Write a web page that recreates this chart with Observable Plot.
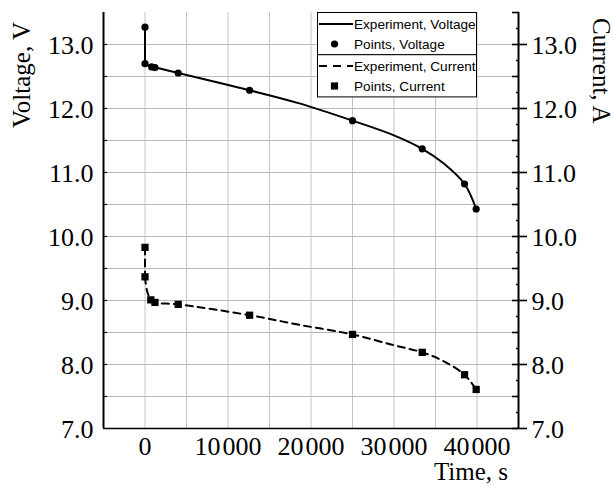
<!DOCTYPE html>
<html>
<head>
<meta charset="utf-8">
<script src="https://cdn.jsdelivr.net/npm/d3@7"></script>
<script src="https://cdn.jsdelivr.net/npm/@observablehq/plot@0.6"></script>
<style>
  body { margin: 0; background: #fff; }
</style>
</head>
<body>
<div id="chart"></div>
<script>
// ---- data ----
const expTimeV   = [0, 0, 800, 1200, 4000, 12600, 18600, 25000, 30000, 33400, 36000, 38500, 39900];
const expVoltage = [13.27, 12.70, 12.65, 12.64, 12.555, 12.285, 12.08, 11.81, 11.58, 11.37, 11.14, 10.82, 10.43];

const ptTimeV    = [0, 0, 800, 1200, 4000, 12600, 25000, 33400, 38500, 39900];
const ptVoltage  = [13.27, 12.70, 12.65, 12.64, 12.555, 12.285, 11.81, 11.37, 10.82, 10.43];

const expTimeI   = [0, 0, 250, 700, 1200, 4000, 12600, 18600, 25000, 30000, 33400, 36000, 38500, 39900];
const expCurrent = [9.83, 9.37, 9.15, 9.01, 8.97, 8.94, 8.77, 8.62, 8.47, 8.30, 8.19, 8.05, 7.84, 7.61];

const ptTimeI    = [0, 0, 700, 1200, 4000, 12600, 25000, 33400, 38500, 39900];
const ptCurrent  = [9.83, 9.37, 9.01, 8.97, 8.94, 8.77, 8.47, 8.19, 7.84, 7.61];

// ---- axes / ticks ----
const xDomain = [-5000, 45000];
const yDomain = [7, 13.5];
const xLabelTicks = [0, 10000, 20000, 30000, 40000];
const xGridTicks  = [0, 5000, 10000, 15000, 20000, 25000, 30000, 35000, 40000];
const yLabelTicks = [7, 8, 9, 10, 11, 12, 13];
const yGridTicks  = [7.5, 8, 8.5, 9, 9.5, 10, 10.5, 11, 11.5, 12, 12.5, 13];
const yHalfTicks  = [7.5, 8.5, 9.5, 10.5, 11.5, 12.5, 13.5];
const yQuarterTicks = [7.25, 7.75, 8.25, 8.75, 9.25, 9.75, 10.25, 10.75, 11.25, 11.75, 12.25, 12.75, 13.25];

const legendItems = ["Experiment, Voltage", "Points, Voltage", "Experiment, Current", "Points, Current"];

const fmtX = d => { const s = String(d); return s.length > 3 ? s.slice(0, -3) + "\u200A" + s.slice(-3) : s; };
const fmtY = d3.format(".1f");
const empty = () => "";

const W = 614, H = 490;
const mL = 103, mR = 96, mT = 12, mB = 62;

// the initial drop (first two readings) is a straight vertical step, the rest a smooth curve
const lineMarks = (xs, ys, extra) => [
  Plot.line(ys.slice(0, 2), { x: xs.slice(0, 2), y: ys.slice(0, 2), stroke: "#000", strokeWidth: 2, ...extra }),
  Plot.line(ys.slice(1), { x: xs.slice(1), y: ys.slice(1), stroke: "#000", strokeWidth: 2, curve: "catmull-rom", ...extra })
];

const plot = Plot.plot({
  width: W,
  height: H,
  marginLeft: mL,
  marginRight: mR,
  marginTop: mT,
  marginBottom: mB,
  style: { fontFamily: "'Liberation Serif', 'Times New Roman', serif", fontSize: "26px", color: "#000", background: "#fff" },
  x: { domain: xDomain, axis: null },
  y: { domain: yDomain, axis: null },
  marks: [
    Plot.ruleX(xGridTicks, { stroke: "#c4c4c4", strokeWidth: 1 }),
    Plot.ruleY(yGridTicks, { stroke: "#b8b8b8", strokeWidth: 1 }),

    // bottom axis labels
    Plot.axisX({ ticks: xLabelTicks, anchor: "bottom", tickSize: 0, tickPadding: 8, tickFormat: fmtX, label: null }),
    // left axis
    Plot.axisY({ ticks: yLabelTicks, anchor: "left", tickSize: 0, tickPadding: 10, tickFormat: fmtY, label: null, dy: 1 }),
    Plot.axisY({ ticks: yGridTicks, anchor: "left", tickSize: 4, dx: 4, tickFormat: empty, label: null, strokeWidth: 1.2 }),
    // right axis
    Plot.axisY({ ticks: yLabelTicks, anchor: "right", tickSize: 0, tickPadding: 13, tickFormat: fmtY, label: null, dy: 1 }),
    Plot.axisY({ ticks: yLabelTicks, anchor: "right", tickSize: 15, dx: -7, tickFormat: empty, label: null, strokeWidth: 1.6 }),
    Plot.axisY({ ticks: yHalfTicks, anchor: "right", tickSize: 7, dx: -7, tickFormat: empty, label: null, strokeWidth: 1.6 }),
    Plot.axisY({ ticks: yQuarterTicks, anchor: "right", tickSize: 3, dx: -3, tickFormat: empty, label: null, strokeWidth: 1.4 }),

    // axis lines
    Plot.ruleX([xDomain[0]], { stroke: "#000", strokeWidth: 2 }),
    Plot.ruleX([xDomain[1]], { stroke: "#000", strokeWidth: 2 }),
    Plot.ruleY([yDomain[0]], { stroke: "#000", strokeWidth: 1.6 }),

    // series
    ...lineMarks(expTimeV, expVoltage, {}),
    ...lineMarks(expTimeI, expCurrent, { strokeDasharray: "7,5" }),
    Plot.dot(ptVoltage, { x: ptTimeV, y: ptVoltage, r: 3.6, fill: "#000", stroke: "none" }),
    Plot.dot(ptCurrent, { x: ptTimeI, y: ptCurrent, r: 4.1, symbol: "square", fill: "#000", stroke: "none" })
  ]
});

document.getElementById("chart").appendChild(plot);

// ---- axis titles and legend ----
const svg = d3.select(plot);
const serif = "'Liberation Serif', 'Times New Roman', serif";

svg.append("text")
  .attr("transform", "translate(30,22) rotate(-90)")
  .attr("text-anchor", "end")
  .attr("font-family", serif).attr("font-size", 25).attr("fill", "#000")
  .text("Voltage, V");

svg.append("text")
  .attr("transform", "translate(593,18) rotate(90)")
  .attr("text-anchor", "start")
  .attr("font-family", serif).attr("font-size", 25).attr("fill", "#000")
  .text("Current, A");

svg.append("text")
  .attr("x", 508).attr("y", 480)
  .attr("text-anchor", "end")
  .attr("font-family", serif).attr("font-size", 25).attr("fill", "#000")
  .text("Time, s");

const lg = svg.append("g")
  .attr("font-family", "'Liberation Sans', Arial, sans-serif")
  .attr("font-size", 13.6)
  .attr("text-anchor", "start")
  .attr("fill", "#000");
const lx = 317.5, lw = 159, boxH = 42.2, ly = 12.5;
lg.append("rect").attr("x", lx).attr("y", ly).attr("width", lw).attr("height", boxH)
  .attr("fill", "#fff").attr("stroke", "#000").attr("stroke-width", 1);
lg.append("rect").attr("x", lx).attr("y", ly + boxH).attr("width", lw).attr("height", boxH)
  .attr("fill", "#fff").attr("stroke", "#000").attr("stroke-width", 1);

const rowY = [24, 44, 66, 86];
lg.append("line").attr("x1", 319).attr("x2", 353).attr("y1", rowY[0]).attr("y2", rowY[0])
  .attr("stroke", "#000").attr("stroke-width", 2);
lg.append("circle").attr("cx", 334.5).attr("cy", rowY[1]).attr("r", 3.6).attr("fill", "#000");
lg.append("line").attr("x1", 319).attr("x2", 353).attr("y1", rowY[2]).attr("y2", rowY[2])
  .attr("stroke", "#000").attr("stroke-width", 2).attr("stroke-dasharray", "8,6");
lg.append("rect").attr("x", 334.5 - 3.6).attr("y", rowY[3] - 3.6).attr("width", 7.2).attr("height", 7.2).attr("fill", "#000");

legendItems.forEach((t, i) => {
  lg.append("text").attr("x", 354).attr("y", rowY[i] + 5).attr("text-anchor", "start").text(t);
});
</script>
</body>
</html>
